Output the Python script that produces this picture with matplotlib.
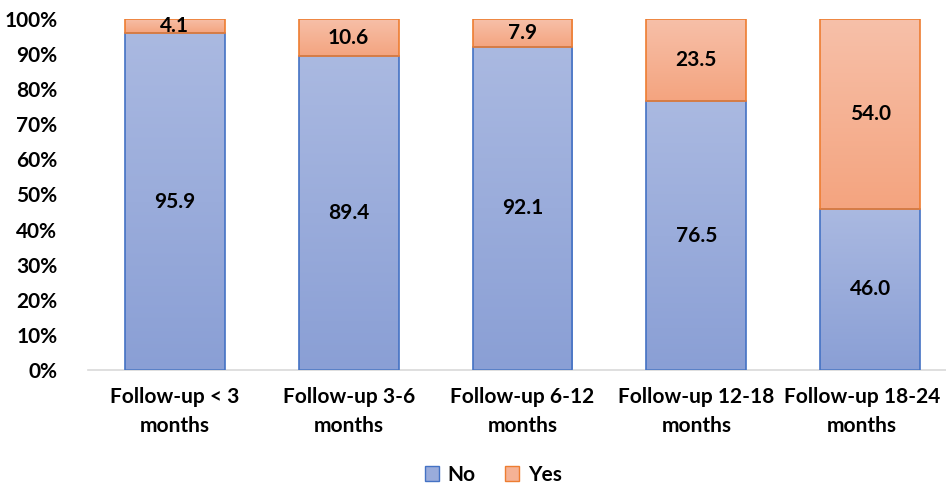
import matplotlib
matplotlib.use("Agg")
import matplotlib.pyplot as plt
import matplotlib.transforms as mtransforms
import numpy as np
from matplotlib.colors import LinearSegmentedColormap
from matplotlib.patches import Patch

categories = ["Follow-up < 3\nmonths", "Follow-up 3-6\nmonths", "Follow-up 6-12\nmonths",
              "Follow-up 12-18\nmonths", "Follow-up 18-24\nmonths"]
no_vals = [95.9, 89.4, 92.1, 76.5, 46.0]
yes_vals = [4.1, 10.6, 7.9, 23.5, 54.0]
yticks = [0, 10, 20, 30, 40, 50, 60, 70, 80, 90, 100]
ytick_labels = [f"{v}%" for v in yticks]

plt.rcParams['font.family'] = ['Lato', 'DejaVu Sans']
plt.rcParams['font.weight'] = 'bold'

fig = plt.figure(figsize=(9.46, 4.87), dpi=100)
ax = fig.add_axes([88/946, 1 - 370/487, 869/946, (370 - 19)/487])

x = np.arange(len(categories))
w = 0.575
blue_edge = "#4472C4"
orange_edge = "#ED7D31"
blue_cmap = LinearSegmentedColormap.from_list("b", ["#8A9FD5", "#AAB9E1"])
orange_cmap = LinearSegmentedColormap.from_list("o", ["#F4A47F", "#F7C0A9"])

b1 = ax.bar(x, no_vals, w, color="none", edgecolor=blue_edge, linewidth=1.2, zorder=3)
b2 = ax.bar(x, yes_vals, w, bottom=no_vals, color="none", edgecolor=orange_edge, linewidth=1.2, zorder=3)

grad = np.linspace(0, 1, 256).reshape(-1, 1)
for bars, cmap in ((b1, blue_cmap), (b2, orange_cmap)):
    for p in bars:
        x0, y0 = p.get_x(), p.get_y()
        ww, hh = p.get_width(), p.get_height()
        im = ax.imshow(grad, cmap=cmap, aspect="auto", origin="lower",
                       extent=[x0, x0 + ww, y0, y0 + hh], zorder=2)
        im.set_clip_path(p)

for i in range(len(categories)):
    ax.text(x[i], no_vals[i] / 2, f"{no_vals[i]:.1f}", ha="center", va="center",
            fontsize=15, fontweight="bold", color="black", zorder=4)
    ax.text(x[i], no_vals[i] + yes_vals[i] / 2, f"{yes_vals[i]:.1f}", ha="center", va="center",
            fontsize=15, fontweight="bold", color="black", zorder=4)

ax.set_xlim(-0.5, 4.5)
ax.set_ylim(0, 100)
ax.set_yticks(yticks)
ax.set_yticklabels(ytick_labels)
ax.set_xticks(x)
ax.set_xticklabels(categories, linespacing=1.6)
ax.tick_params(axis="both", length=0, labelsize=15)
ax.tick_params(axis="y", pad=22)
ax.tick_params(axis="x", pad=12)
for lbl in ax.get_xticklabels() + ax.get_yticklabels():
    lbl.set_fontweight("bold")
# Shift last category label left so it stays inside the figure (as in the reference)
last = ax.get_xticklabels()[-1]
last.set_transform(last.get_transform() + mtransforms.ScaledTranslation(-8/100, 0, fig.dpi_scale_trans))
for s in ("top", "right", "left"):
    ax.spines[s].set_visible(False)
ax.spines["bottom"].set_color("#D9D9D9")
ax.spines["bottom"].set_linewidth(1.2)
ax.set_facecolor("none")

handles = [Patch(facecolor="#9AACDB", edgecolor=blue_edge, label="No"),
           Patch(facecolor="#F5B295", edgecolor=orange_edge, label="Yes")]
fig.legend(handles=handles, loc="center", bbox_to_anchor=(493/946, 1 - 475/487), ncol=2,
           frameon=False, fontsize=15, handlelength=0.7, handleheight=0.7,
           handletextpad=0.4, columnspacing=1.4)

fig.savefig("out.png", dpi=100)
